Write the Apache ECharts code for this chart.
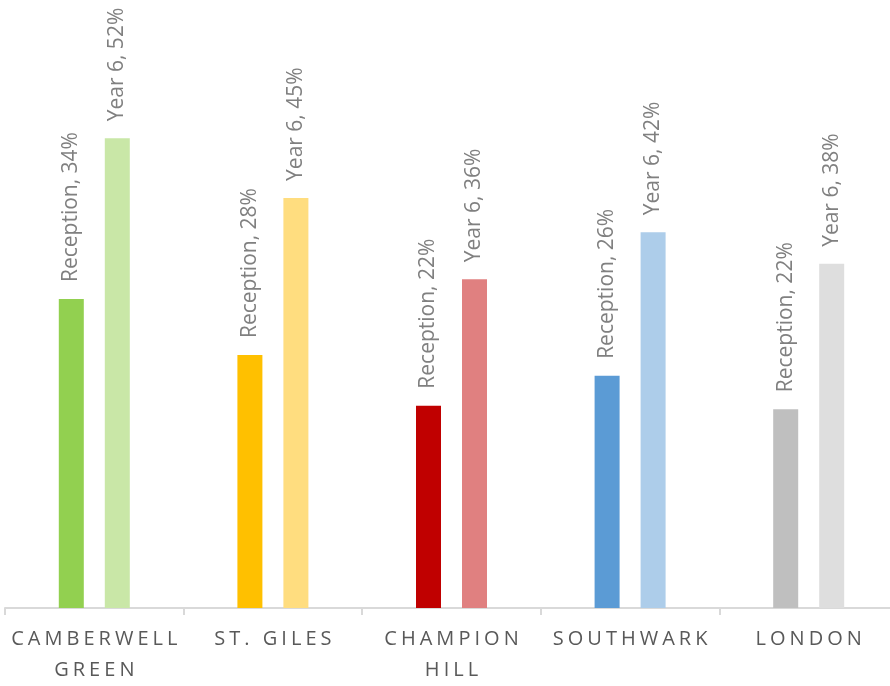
<!DOCTYPE html>
<html>
<head>
<meta charset="utf-8">
<script src="https://cdn.jsdelivr.net/npm/echarts@6/dist/echarts.min.js"></script>
<style>
  html, body { margin: 0; padding: 0; background: #fff; }
  #wrap { width: 890px; height: 686px; overflow: hidden; position: relative; }
  #chart { width: 900px; height: 686px; }
</style>
</head>
<body>
<div id="wrap"><div id="chart"></div></div>
<script>
// 類別與數值
const categories = ['CAMBERWELL GREEN', 'ST. GILES', 'CHAMPION HILL', 'SOUTHWARK', 'LONDON']
const seriesNames = ['Reception', 'Year 6']
const receptionValues = [34.2, 28.0, 22.4, 25.7, 22.0]
const year6Values = [52.0, 45.4, 36.4, 41.6, 38.1]
const receptionColors = ['#92d050', '#ffc000', '#c00000', '#5b9bd5', '#bfbfbf']
const year6Colors = ['#c9e7a7', '#ffdd7f', '#e08080', '#adcdea', '#dedede']

const chart = echarts.init(document.getElementById('chart'))

// 字母間距：用小字號空格拉開
function spaced(name) {
  const words = name.split(' ')
  const wrap = words.length > 1 && name.length > 10
  return words.map(w => w.split('').join('{s| }')).join(wrap ? '\n' : '{s| }{w| }{s| }')
}

function makeSeries(name, values, colors) {
  return {
    name,
    type: 'bar',
    barWidth: 25,
    barGap: '84%',
    data: values.map((v, i) => ({ value: v, itemStyle: { color: colors[i] } })),
    label: {
      show: true,
      position: 'top',
      distance: 17,
      rotate: 90,
      align: 'left',
      verticalAlign: 'middle',
      color: '#808080',
      fontSize: 21,
      fontFamily: 'Open Sans',
      formatter: p => `${p.seriesName}, ${Math.round(p.value)}%`
    }
  }
}

chart.setOption({
  animation: false,
  grid: { left: 5, top: 66, width: 893, height: 546 },
  xAxis: {
    type: 'category',
    data: categories,
    axisLine: { lineStyle: { color: '#d9d9d9', width: 2 } },
    axisTick: { show: true, length: 7, lineStyle: { color: '#d9d9d9', width: 2 } },
    axisLabel: {
      interval: 0,
      margin: 16,
      color: '#595959',
      fontSize: 20,
      lineHeight: 31,
      fontFamily: 'Open Sans',
      formatter: v => spaced(v),
      rich: {
        s: { fontSize: 15.5, lineHeight: 31 },
        w: { fontSize: 20, lineHeight: 31 }
      }
    }
  },
  yAxis: {
    type: 'value',
    min: 0,
    max: 60,
    show: false,
    splitLine: { show: false }
  },
  series: [
    makeSeries(seriesNames[0], receptionValues, receptionColors),
    makeSeries(seriesNames[1], year6Values, year6Colors)
  ]
})
</script>
</body>
</html>
